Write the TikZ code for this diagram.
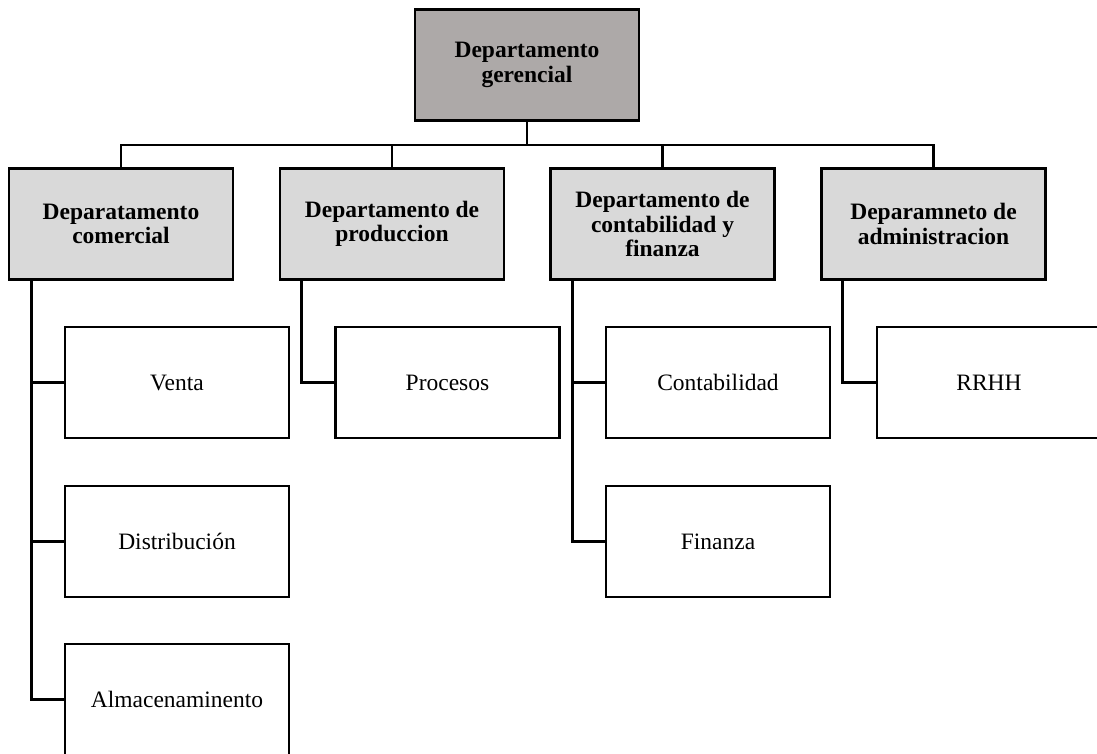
\documentclass[tikz,border=0pt]{standalone}
\usepackage{fontspec}
\setmainfont{Liberation Serif}
\definecolor{topgray}{RGB}{173,169,168}
\definecolor{deptgray}{RGB}{217,217,217}
\begin{document}
\begin{tikzpicture}[x=1pt,y=-1pt,
  box/.style={draw=black, line width=2.6pt, rectangle, minimum width=224pt,
    minimum height=111pt, inner sep=0pt, align=center,
    font=\fontsize{23.5}{24.5}\selectfont},
  headbox/.style={box, fill=topgray, font=\fontsize{23.5}{24.5}\selectfont\bfseries},
  deptbox/.style={box, fill=deptgray, font=\fontsize{23.5}{24.5}\selectfont\bfseries},
  unitbox/.style={box, fill=white},
  link/.style={draw=black, line width=2.6pt}]
\useasboundingbox (0,0) rectangle (1097,754);
\clip (0,0) rectangle (1097,754);

% top management
\node[headbox] (ger) at (527,65) {Departamento\\gerencial};

% departments
\node[deptbox] (com) at (121,224) {Deparatamento\\comercial};
\node[deptbox] (pro) at (392,224) {Departamento de\\produccion};
\node[deptbox] (con) at (662.5,224) {Departamento de\\contabilidad y\\finanza};
\node[deptbox] (adm) at (933.5,224) {Deparamneto de\\administracion};

% units
\node[unitbox] (ven) at (177,382.5) {Venta};
\node[unitbox] (dis) at (177,541.5) {Distribución};
\node[unitbox] (alm) at (177,699.5) {Almacenaminento};
\node[unitbox] (prc) at (447.5,382.5) {Procesos};
\node[unitbox] (ctb) at (718,382.5) {Contabilidad};
\node[unitbox] (fin) at (718,541.5) {Finanza};
\node[unitbox] (rrh) at (989,382.5) {RRHH};

% management bus
\coordinate (bus) at (527,145);
\draw[link] (ger.south) -- (bus);
\draw[link] (bus) -| (com.north);
\draw[link] (bus) -| (pro.north);
\draw[link] (bus) -| (con.north);
\draw[link] (bus) -| (adm.north);

% department to unit connectors
\draw[link] ([xshift=24pt]com.south west) |- (ven.west);
\draw[link] ([xshift=24pt]com.south west) |- (dis.west);
\draw[link] ([xshift=24pt]com.south west) |- (alm.west);
\draw[link] ([xshift=23pt]pro.south west) |- (prc.west);
\draw[link] ([xshift=23pt]con.south west) |- (ctb.west);
\draw[link] ([xshift=23pt]con.south west) |- (fin.west);
\draw[link] ([xshift=22pt]adm.south west) |- (rrh.west);
\end{tikzpicture}
\end{document}
